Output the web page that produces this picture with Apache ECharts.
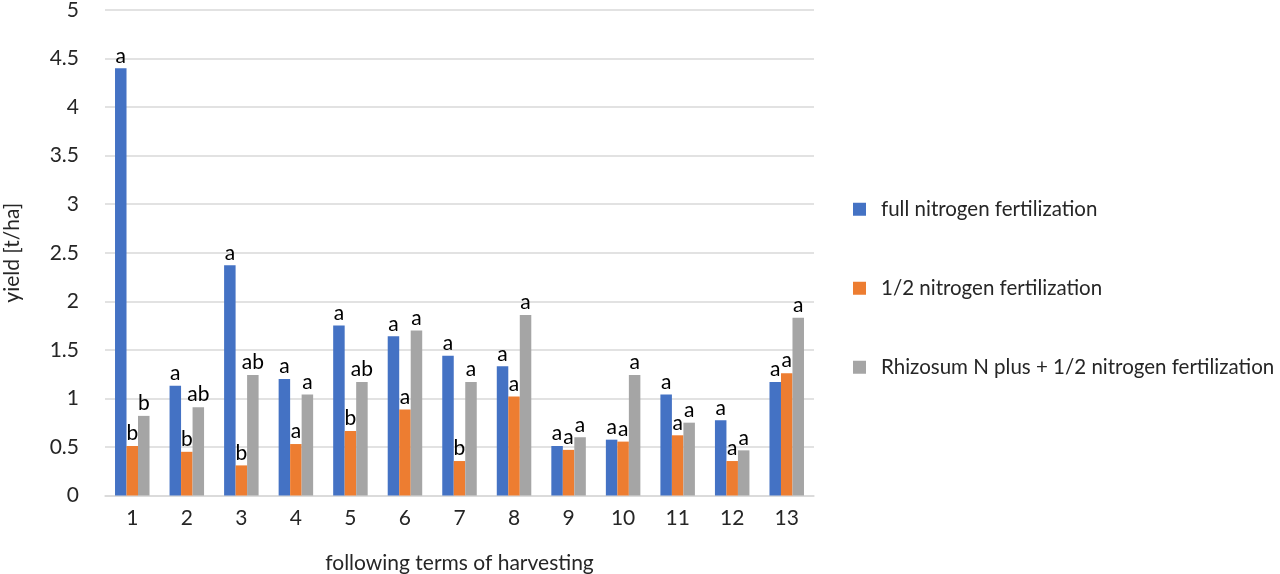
<!DOCTYPE html>
<html>
<head>
<meta charset="utf-8">
<script src="https://cdn.jsdelivr.net/npm/echarts@6/dist/echarts.min.js"></script>
<style>html,body{margin:0;padding:0;background:#fff;}#c{width:1280px;height:574px;}</style>
</head>
<body>
<div id="c"></div>
<script>
var categories = ['1','2','3','4','5','6','7','8','9','10','11','12','13'];
var seriesNames = ['full nitrogen fertilization','1/2 nitrogen fertilization','Rhizosum N plus + 1/2 nitrogen fertilization'];
var fullN = [4.40,1.13,2.37,1.20,1.75,1.64,1.44,1.33,0.51,0.575,1.04,0.775,1.17];
var halfN = [0.51,0.45,0.31,0.53,0.665,0.885,0.355,1.02,0.47,0.555,0.62,0.355,1.26];
var rhizo = [0.82,0.91,1.24,1.04,1.17,1.70,1.17,1.86,0.60,1.24,0.75,0.465,1.83];
var fullNLetters = ['a','a','a','a','a','a','a','a','a','a','a','a','a'];
var halfNLetters = ['b','b','b','a','b','a','b','a','a','a','a','a','a'];
var rhizoLetters = ['b','ab','ab','a','ab','a','a','a','a','a','a','a','a'];
var yTicks = ['0','0.5','1','1.5','2','2.5','3','3.5','4','4.5','5'];

var FONT = 'Lato';
var FS = 21;
var LFS = 20.5;
var colors = ['#4472C4','#ED7D31','#A5A5A5'];
function mk(name, data, letters, color){
  return {
    name: name, type: 'bar', data: data, barWidth: 11.5, barGap: '0%',
    itemStyle: {color: color},
    label: {show: true, position: 'top', distance: 2, color: '#000', fontFamily: FONT, fontSize: FS,
      formatter: function(p){ return letters[p.dataIndex]; }},
    emphasis: {disabled: true}
  };
}
var chart = echarts.init(document.getElementById('c'));
chart.setOption({
  animation: false,
  color: colors,
  grid: {left: 105, right: 466, top: 10, bottom: 78.5, containLabel: false, outerBoundsMode: 'none'},
  legend: {
    orient: 'vertical', left: 848, top: 193.75, itemWidth: 13, itemHeight: 13, itemGap: 58,
    icon: 'rect',
    textStyle: {fontFamily: FONT, fontSize: LFS, color: '#262626', padding: [0,0,0,10]},
    data: seriesNames
  },
  xAxis: {
    type: 'category', data: categories,
    name: 'following terms of harvesting', nameLocation: 'middle', nameGap: 57,
    nameTextStyle: {fontFamily: FONT, fontSize: FS, color: '#262626'},
    axisLine: {lineStyle: {color: '#D9D9D9', width: 1.5}},
    axisTick: {show: false},
    axisLabel: {fontFamily: FONT, fontSize: FS, color: '#262626', margin: 12}
  },
  yAxis: {
    type: 'value', min: 0, max: 5, interval: 0.5,
    name: 'yield [t/ha]', nameLocation: 'middle', nameGap: 82.5, nameRotate: 90,
    nameTextStyle: {fontFamily: FONT, fontSize: FS, color: '#262626'},
    axisLine: {show: false}, axisTick: {show: false},
    splitLine: {lineStyle: {color: '#D9D9D9', width: 1.5}},
    axisLabel: {fontFamily: FONT, fontSize: FS, color: '#262626', margin: 26,
      formatter: function(v){ var i = Math.round(v/0.5); return yTicks[i]; }}
  },
  series: [
    mk(seriesNames[0], fullN, fullNLetters, colors[0]),
    mk(seriesNames[1], halfN, halfNLetters, colors[1]),
    mk(seriesNames[2], rhizo, rhizoLetters, colors[2])
  ]
});
</script>
</body>
</html>
